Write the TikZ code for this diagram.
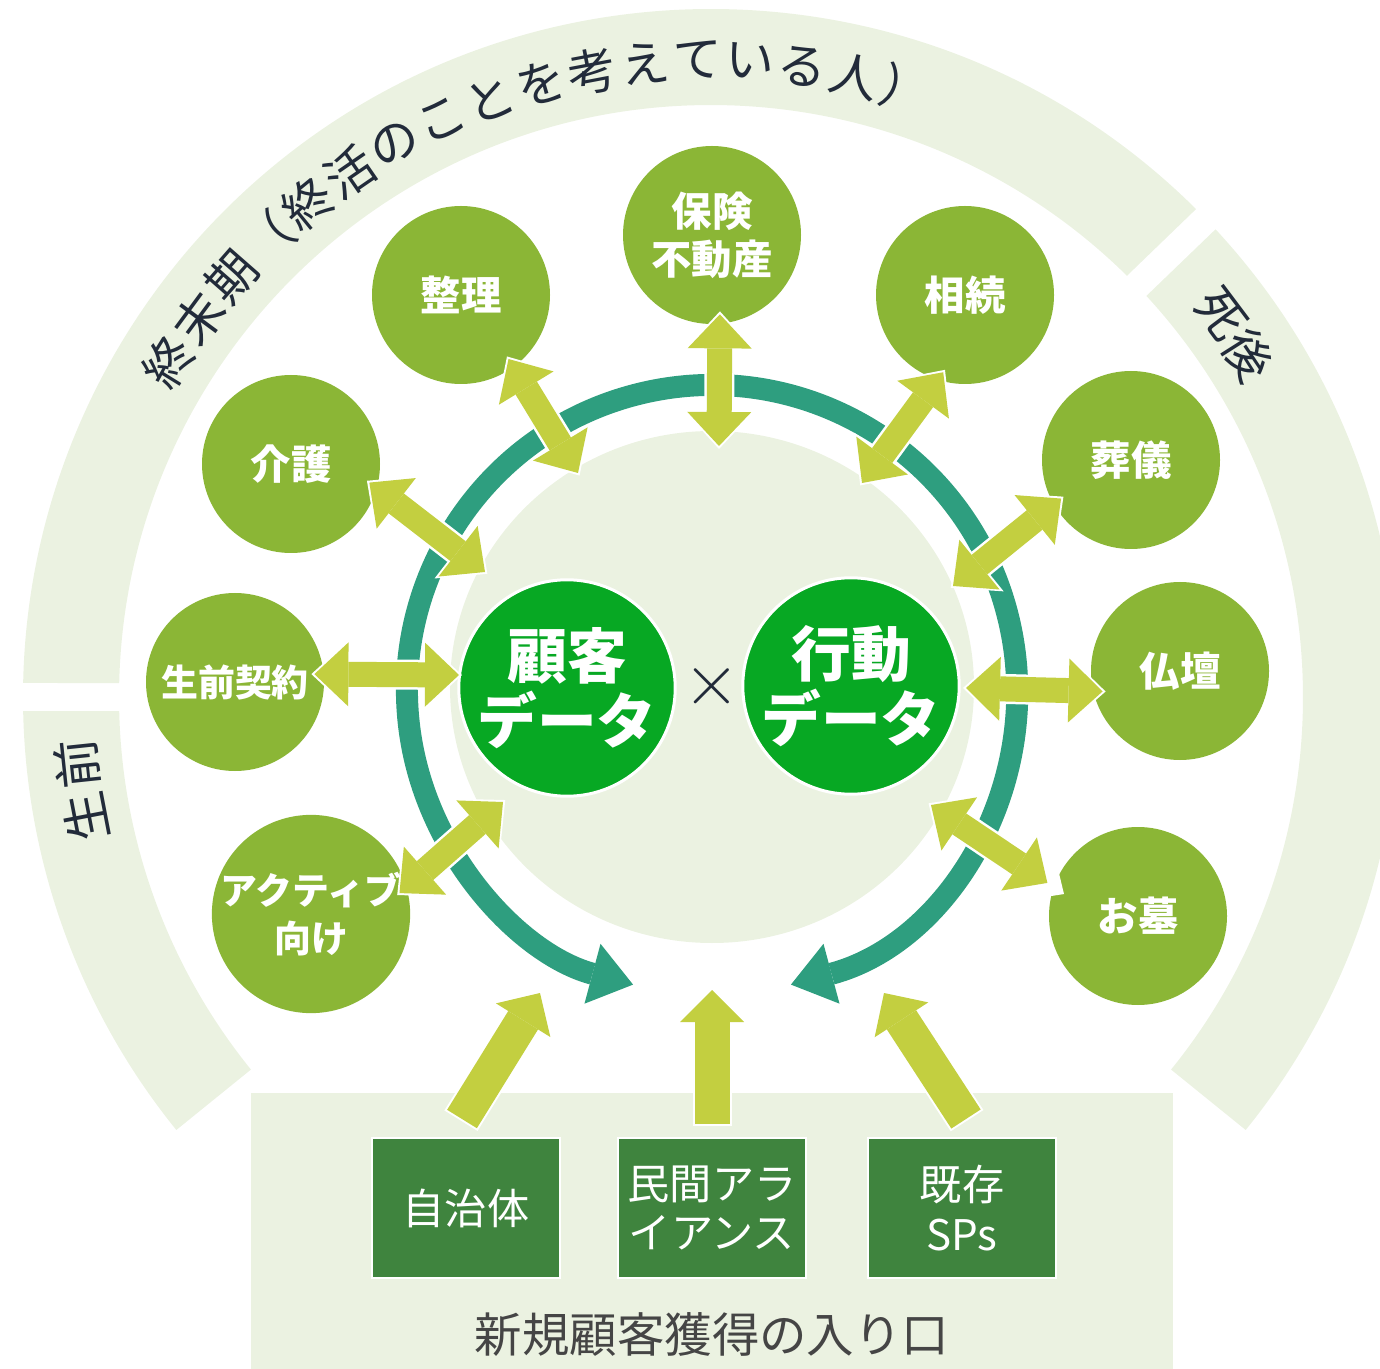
\documentclass[tikz,border=0pt]{standalone}
\usepackage{fontspec}
\setmainfont{Noto Sans CJK JP}
\usetikzlibrary{arrows.meta}

\definecolor{ringbg}{HTML}{EBF2E1}
\definecolor{leafgreen}{HTML}{8BB636}
\definecolor{coregreen}{HTML}{07A823}
\definecolor{loopteal}{HTML}{2E9E7F}
\definecolor{arrowlime}{HTML}{C3CF40}
\definecolor{boxgreen}{HTML}{3F843E}
\definecolor{inknavy}{HTML}{222B3A}
\definecolor{capgray}{HTML}{454545}

\begin{document}
\begin{tikzpicture}[
  leaf/.style={circle, fill=leafgreen, minimum size=1.78cm, inner sep=0pt, align=center, text=white, font=\bfseries\fontsize{11.5}{13.7}\selectfont},
  core/.style={circle, fill=coregreen, draw=white, line width=0.03cm, minimum size=2.08cm, inner sep=0pt, align=center, text=white, font=\bfseries\fontsize{17}{18.5}\selectfont},
  entry/.style={rectangle, fill=boxgreen, draw=white, line width=0.02cm, minimum width=1.88cm, minimum height=1.40cm, inner sep=0pt, align=center, text=white, font=\fontsize{12}{14.2}\selectfont},
  ringtxt/.style={inner sep=0pt, text=inknavy, font=\fontsize{14}{14}\selectfont},
  linkarrow/.style={draw=arrowlime, line width=0.25cm, shorten <=-0.1cm,
    {Triangle[width=0.64cm,length=0.34cm,line width=0pt]}-{Triangle[width=0.64cm,length=0.34cm,line width=0pt]},
    preaction={draw=white, line width=0.30cm, shorten <=-0.13cm, shorten >=-0.03cm,
      {Triangle[width=0.72cm,length=0.39cm,line width=0pt]}-{Triangle[width=0.72cm,length=0.39cm,line width=0pt]}}},
  feedarrow/.style={draw=arrowlime, line width=0.35cm,
    -{Triangle[width=0.64cm,length=0.32cm,line width=0pt]},
    preaction={draw=white, line width=0.39cm, shorten <=-0.02cm, shorten >=-0.03cm,
      -{Triangle[width=0.72cm,length=0.37cm,line width=0pt]}}}
]
% Set the ring dimensions
\def\rout{6.88}
\def\rin{5.92}
\def\rtxt{6.37}

\useasboundingbox (0,0) rectangle (13.80,-13.69);
\clip (0,0) rectangle (13.80,-13.69);
\coordinate (ringc) at (7.11,-6.97);
\coordinate (tealc) at (7.12,-6.90);

% Draw the three bands of the outer ring
\fill[ringbg] ([shift={(45.17:\rout)}]ringc) arc[start angle=45.17, end angle=178.83, radius=\rout]
  -- ([shift={(178.65:\rin)}]ringc) arc[start angle=178.65, end angle=45.36, radius=\rin] -- cycle;
\fill[ringbg] ([shift={(-39:\rout)}]ringc) arc[start angle=-39, end angle=42.83, radius=\rout]
  -- ([shift={(42.65:\rin)}]ringc) arc[start angle=42.65, end angle=-39, radius=\rin] -- cycle;
\fill[ringbg] ([shift={(181.17:\rout)}]ringc) arc[start angle=181.17, end angle=219, radius=\rout]
  -- ([shift={(219:\rin)}]ringc) arc[start angle=219, end angle=181.36, radius=\rin] -- cycle;

% Inner disc and the loop
\fill[ringbg] (7.12,-6.87) ellipse[x radius=2.62, y radius=2.56];
\draw[loopteal, line width=0.22cm, {Triangle[width=0.62cm,length=0.42cm,line width=0pt]}-{Triangle[width=0.62cm,length=0.42cm,line width=0pt]}]
  ([shift={(-75:3.05)}]tealc) arc[start angle=-75, end angle=255, radius=3.05];

% Text along the ring
\foreach \ch [count=\i from 0] in {終,末,期,（,終,活,の,こ,と,を,考,え,て,い,る,人,）}{
  \pgfmathsetmacro\ang{148.3-4.756*\i}
  \node[ringtxt, rotate=\ang-90] (late\i) at ([shift={(\ang:\rtxt)}]ringc) {\ch};
}
\node[ringtxt, rotate=36.9-90] (after1) at ([shift={(36.9:\rtxt)}]ringc) {死};
\node[ringtxt, rotate=32.4-90] (after2) at ([shift={(32.4:\rtxt)}]ringc) {後};
\node[ringtxt, rotate=190.9-90] (before1) at ([shift={(190.9:\rtxt)}]ringc) {生};
\node[ringtxt, rotate=186.0-90] (before2) at ([shift={(186.0:\rtxt)}]ringc) {前};

% Service circles
\node[leaf] (hoken) at (7.12,-2.35) {保険\\不動産};
\node[leaf] (seiri) at (4.61,-2.95) {整理};
\node[leaf] (souzoku) at (9.65,-2.95) {相続};
\node[leaf] (kaigo) at (2.91,-4.64) {介護};
\node[leaf] (sougi) at (11.31,-4.60) {葬儀};
\node[leaf, font=\bfseries\fontsize{10.5}{12}\selectfont] (seizen) at (2.35,-6.82) {生前契約};
\node[leaf] (butsudan) at (11.80,-6.71) {仏壇};
\node[leaf, font=\bfseries\fontsize{10.5}{13.7}\selectfont] (active) at (3.11,-9.14) {アクティブ\\向け};
\node[leaf] (ohaka) at (11.38,-9.16) {お墓};

% Data circles
\node[core] (kokyaku) at (5.67,-6.88) {顧客\\データ};
\node[core] (koudou) at (8.51,-6.86) {行動\\データ};
\node[text=inknavy, font=\fontsize{22}{22}\selectfont] (cross) at (7.12,-6.86) {$\times$};

% Inner ends of the links
\coordinate (hoken-in) at (7.19,-4.46);
\coordinate (seiri-in) at (5.78,-4.73);
\coordinate (souzoku-in) at (8.62,-4.83);
\coordinate (kaigo-in) at (4.85,-5.72);
\coordinate (sougi-in) at (9.53,-5.86);
\coordinate (seizen-in) at (4.59,-6.75);
\coordinate (butsudan-in) at (9.66,-6.88);
\coordinate (active-in) at (5.03,-8.02);
\coordinate (ohaka-in) at (9.31,-8.05);

\draw[linkarrow] (hoken.275) -- (hoken-in);
\draw[linkarrow] (seiri.306) -- (seiri-in);
\draw[linkarrow] (souzoku.252) -- (souzoku-in);
\draw[linkarrow] (kaigo.344) -- (kaigo-in);
\draw[linkarrow] (sougi.210) -- (sougi-in);
\draw[linkarrow] (seizen.5) -- (seizen-in);
\draw[linkarrow] (butsudan.193) -- (butsudan-in);
\draw[linkarrow] (active.16) -- (active-in);
\draw[linkarrow, shorten <=0.07cm] (ohaka.161) -- (ohaka-in);

% Entry panel
\fill[ringbg] (2.51,-10.93) rectangle (11.73,-13.69);
\node[entry] (jichitai) at (4.66,-12.08) {自治体};
\node[entry] (minkan) at (7.12,-12.08) {民間アラ\\イアンス};
\node[entry] (kizon) at (9.62,-12.08) {既存\\SPs};
\node[text=capgray, font=\fontsize{13.5}{14}\selectfont] (entrycap) at (7.12,-13.35) {新規顧客獲得の入り口};

\coordinate (hubL) at (5.40,-9.93);
\coordinate (hubM) at (7.12,-9.90);
\coordinate (hubR) at (8.84,-9.93);
\draw[feedarrow] ([shift={(-0.04,0.18)}]jichitai.north) -- (hubL);
\draw[feedarrow] ([shift={(0,0.13)}]minkan.north) -- (hubM);
\draw[feedarrow] ([shift={(0.04,0.18)}]kizon.north) -- (hubR);
\end{tikzpicture}
\end{document}
